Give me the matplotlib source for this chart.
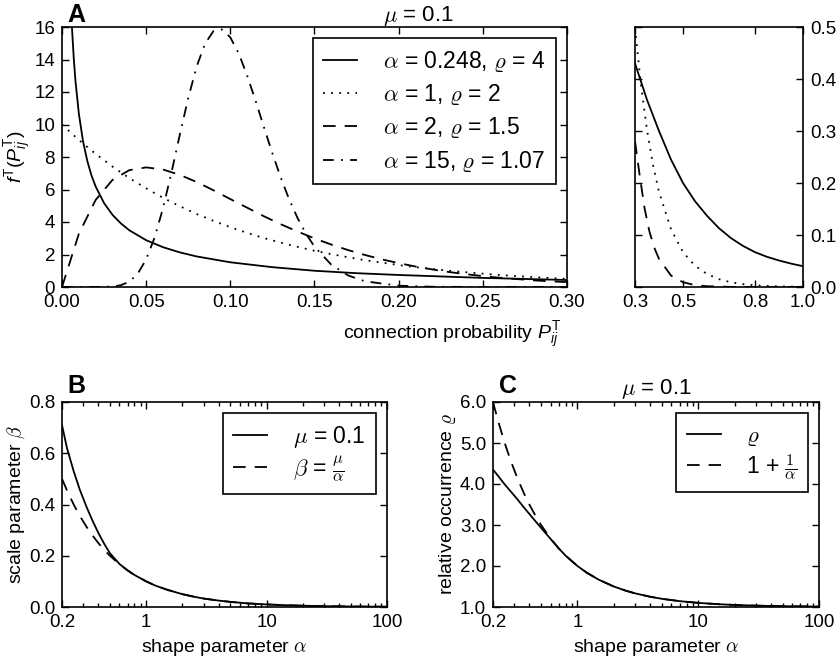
import matplotlib
matplotlib.use("Agg")
import matplotlib.pyplot as plt
from matplotlib.ticker import FixedLocator, FormatStrFormatter, LogLocator, NullFormatter

plt.rcParams['font.family'] = ['Liberation Sans', 'DejaVu Sans']
plt.rcParams['mathtext.fontset'] = 'cm'
plt.rcParams['mathtext.rm'] = 'Liberation Sans'
plt.rcParams['mathtext.it'] = 'Liberation Sans:italic'
plt.rcParams['xtick.direction'] = 'in'
plt.rcParams['ytick.direction'] = 'in'
plt.rcParams['xtick.top'] = True
plt.rcParams['ytick.right'] = True

# ---- panel A, main part (connection probability densities) ----
x_a1 = [0.005, 0.006, 0.007, 0.008, 0.01, 0.0125, 0.015, 0.0175, 0.02, 0.025,
        0.03, 0.035, 0.04, 0.05, 0.06, 0.07, 0.08, 0.10, 0.125, 0.15, 0.175,
        0.20, 0.25, 0.30]
f_a1 = [18.2, 15.8, 14.05, 12.68, 10.67, 8.96, 7.77, 6.87, 6.18, 5.16,
        4.44, 3.91, 3.49, 2.88, 2.45, 2.13, 1.88, 1.52, 1.22, 1.0, 0.85,
        0.74, 0.56, 0.43]

x_a2 = [0.00, 0.01, 0.02, 0.03, 0.04, 0.05, 0.06, 0.07, 0.08, 0.09, 0.10,
        0.11, 0.12, 0.13, 0.14, 0.15, 0.16, 0.17, 0.18, 0.19, 0.20, 0.21,
        0.22, 0.23, 0.24, 0.25, 0.26, 0.27, 0.28, 0.29, 0.30]
f_a2 = [10.0, 9.05, 8.19, 7.41, 6.70, 6.07, 5.49, 4.97, 4.49, 4.07, 3.68,
        3.33, 3.01, 2.73, 2.47, 2.23, 2.02, 1.83, 1.65, 1.50, 1.35, 1.22,
        1.11, 1.00, 0.91, 0.82, 0.74, 0.67, 0.61, 0.55, 0.50]

x_a3 = x_a2
f_a3 = [0.0, 3.27, 5.36, 6.59, 7.19, 7.36, 7.23, 6.90, 6.46, 5.95, 5.41,
        4.88, 4.35, 3.86, 3.41, 2.99, 2.61, 2.27, 1.97, 1.70, 1.47, 1.26,
        1.08, 0.92, 0.79, 0.67, 0.57, 0.49, 0.41, 0.35, 0.30]

x_a4 = [0.0, 0.02, 0.03, 0.035, 0.04, 0.045, 0.05, 0.055, 0.06, 0.065, 0.07,
        0.075, 0.08, 0.085, 0.09, 0.095, 0.10, 0.105, 0.11, 0.115, 0.12,
        0.125, 0.13, 0.135, 0.14, 0.145, 0.15, 0.16, 0.17, 0.18, 0.20,
        0.22, 0.25, 0.30]
f_a4 = [0.0, 0.001, 0.03, 0.11, 0.33, 0.82, 1.70, 3.04, 4.85, 7.03, 9.38,
        11.63, 13.57, 14.98, 15.75, 15.85, 15.36, 14.37, 13.01, 11.46, 9.82,
        8.22, 6.72, 5.38, 4.23, 3.27, 2.48, 1.37, 0.71, 0.35, 0.08,
        0.015, 0.001, 0.0]

labels_a = [r'$\alpha$ = 0.248, $\varrho$ = 4',
            r'$\alpha$ = 1, $\varrho$ = 2',
            r'$\alpha$ = 2, $\varrho$ = 1.5',
            r'$\alpha$ = 15, $\varrho$ = 1.07']

# ---- panel A, tail (0.3 .. 1.0) ----
xt1 = [0.3, 0.35, 0.4, 0.45, 0.5, 0.55, 0.6, 0.65, 0.7, 0.75, 0.8, 0.85,
       0.9, 0.95, 1.0]
ft1 = [0.43, 0.36, 0.30, 0.245, 0.20, 0.165, 0.137, 0.113, 0.094, 0.079,
       0.067, 0.058, 0.051, 0.045, 0.04]
xt2 = [0.3, 0.325, 0.35, 0.375, 0.4, 0.45, 0.5, 0.55, 0.6, 0.65, 0.7, 0.75,
       0.8, 0.85, 0.9, 0.95, 1.0]
ft2 = [0.498, 0.388, 0.302, 0.235, 0.183, 0.111, 0.067, 0.041, 0.025, 0.015,
       0.009, 0.0055, 0.0034, 0.002, 0.0012, 0.0007, 0.0005]
xt3 = [0.3, 0.32, 0.34, 0.36, 0.38, 0.4, 0.45, 0.5, 0.55, 0.6, 0.7, 0.8, 1.0]
ft3 = [0.28, 0.213, 0.151, 0.107, 0.076, 0.054, 0.022, 0.0091, 0.0037,
       0.0015, 0.0002, 0.0, 0.0]

# ---- panels B and C (vs shape parameter alpha) ----
alpha = [0.2, 0.22, 0.25, 0.28, 0.32, 0.36, 0.4, 0.45, 0.5, 0.6, 0.7, 0.8,
         1, 1.2, 1.5, 2, 2.5, 3, 4, 5, 7, 10, 15, 20, 30, 50, 100]
beta = [0.71, 0.62, 0.53, 0.46, 0.39, 0.335, 0.29, 0.245, 0.21, 0.168,
        0.143, 0.125, 0.1, 0.083, 0.067, 0.05, 0.04, 0.033, 0.025, 0.02,
        0.014, 0.01, 0.0067, 0.005, 0.0033, 0.002, 0.001]
beta_approx = [0.5, 0.455, 0.4, 0.357, 0.3125, 0.278, 0.25, 0.222, 0.2,
               0.167, 0.143, 0.125, 0.1, 0.083, 0.067, 0.05, 0.04, 0.033,
               0.025, 0.02, 0.014, 0.01, 0.0067, 0.005, 0.0033, 0.002, 0.001]
rho = [4.35, 4.2, 3.99, 3.82, 3.62, 3.43, 3.27, 3.09, 2.93, 2.66, 2.43,
       2.25, 2.0, 1.833, 1.667, 1.5, 1.4, 1.333, 1.25, 1.2, 1.143, 1.1,
       1.067, 1.05, 1.033, 1.02, 1.01]
rho_approx = [6.0, 5.545, 5.0, 4.571, 4.125, 3.778, 3.5, 3.222, 3.0, 2.667,
              2.429, 2.25, 2.0, 1.833, 1.667, 1.5, 1.4, 1.333, 1.25, 1.2,
              1.143, 1.1, 1.067, 1.05, 1.033, 1.02, 1.01]

W, H = 837, 660
fig = plt.figure(figsize=(W / 100, H / 100), dpi=100)


def box(l, t, r, b):
    return [l / W, 1 - b / H, (r - l) / W, (b - t) / H]


lw = 1.3
styles = ['-', (0, (1, 3.5)), (0, (7, 5)), (0, (6, 4, 1, 4))]
tick_fs = 13.5
lab_fs = 14
leg_fs = 16.5


def add_legend(a, handles=None, labels=None, spacing=0.45):
    if handles is None:
        handles, labels = a.get_legend_handles_labels()
    lg = a.legend(handles, labels, loc='upper right', fontsize=leg_fs,
                  handlelength=1.5, labelspacing=spacing, borderpad=0.45,
                  handletextpad=1.1, fancybox=False, edgecolor='k',
                  framealpha=1, borderaxespad=0.5)
    lg.get_frame().set_linewidth(1.2)
    return lg


# main panel A
ax = fig.add_axes(box(62, 27, 567, 287))
for xs, ys, ls, lab in zip([x_a1, x_a2, x_a3, x_a4], [f_a1, f_a2, f_a3, f_a4],
                           styles, labels_a):
    ax.plot(xs, ys, color='k', lw=lw, linestyle=ls, label=lab)
ax.set_xlim(0, 0.3)
ax.set_ylim(0, 16)
ax.set_xticks([0, 0.05, 0.10, 0.15, 0.20, 0.25, 0.30])
ax.xaxis.set_major_formatter(FormatStrFormatter('%.2f'))
ax.set_yticks(range(0, 17, 2))
ax.tick_params(labelsize=tick_fs, length=5, width=1, pad=5)
ax.set_ylabel(r'$f^{\mathrm{T}}(P_{ij}^{\mathrm{T}})$', fontsize=lab_fs,
              math_fontfamily='custom')
ax.yaxis.set_label_coords((33 - 62) / 505, 0.5)
add_legend(ax, spacing=0.36)

# tail panel A
ax2 = fig.add_axes(box(635, 27, 803, 287))
ax2.plot(xt1, ft1, color='k', lw=lw, linestyle=styles[0])
ax2.plot(xt2, ft2, color='k', lw=lw, linestyle=styles[1])
ax2.plot(xt3, ft3, color='k', lw=lw, linestyle=styles[2])
ax2.set_xlim(0.3, 1.0)
ax2.set_ylim(0, 0.5)
ax2.set_xticks([0.3, 0.5, 0.8, 1.0])
ax2.xaxis.set_major_formatter(FormatStrFormatter('%.1f'))
ax2.set_yticks([0, 0.1, 0.2, 0.3, 0.4, 0.5])
ax2.yaxis.set_major_formatter(FormatStrFormatter('%.1f'))
ax2.yaxis.tick_right()
ax2.yaxis.set_ticks_position('both')
ax2.tick_params(labelsize=tick_fs, length=5, width=1, pad=5,
                labelleft=False, labelright=True)

fig.text(418 / W, 1 - 21 / H, r'$\mu$ = 0.1', fontsize=16, ha='center',
         va='baseline')
fig.text(452 / W, 1 - 339 / H, r'connection probability $P_{ij}^{\mathrm{T}}$',
         fontsize=lab_fs, ha='center', va='baseline', math_fontfamily='custom')
fig.text(67 / W, 1 - 22 / H, 'A', fontsize=18, fontweight='bold',
         va='baseline')


def log_axis(a):
    a.set_xscale('log')
    a.set_xlim(0.2, 100)
    a.xaxis.set_major_locator(FixedLocator([0.2, 1, 10, 100]))
    a.xaxis.set_major_formatter(FormatStrFormatter('%g'))
    a.xaxis.set_minor_locator(LogLocator(base=10, subs=range(2, 10)))
    a.xaxis.set_minor_formatter(NullFormatter())
    a.tick_params(which='major', labelsize=tick_fs, length=5, width=1, pad=5)
    a.tick_params(which='minor', length=3, width=1)
    a.set_xlabel(r'shape parameter $\alpha$', fontsize=lab_fs, labelpad=4)


# panel B
axb = fig.add_axes(box(62, 402, 387, 607))
axb.plot(alpha, beta_approx, color='k', lw=lw, linestyle=styles[2],
         label=r'$\beta$ = $\frac{\mu}{\alpha}$')
axb.plot(alpha, beta, color='k', lw=lw, linestyle='-', label=r'$\mu$ = 0.1')
log_axis(axb)
axb.set_ylim(0, 0.8)
axb.set_yticks([0, 0.2, 0.4, 0.6, 0.8])
axb.yaxis.set_major_formatter(FormatStrFormatter('%.1f'))
axb.set_ylabel(r'scale parameter $\beta$', fontsize=lab_fs)
axb.yaxis.set_label_coords((27 - 62) / 325, 0.5)
h, l = axb.get_legend_handles_labels()
add_legend(axb, h[::-1], l[::-1], spacing=0.2)
fig.text(67 / W, 1 - 393 / H, 'B', fontsize=18, fontweight='bold',
         va='baseline')

# panel C
axc = fig.add_axes(box(493, 402, 819, 607))
axc.plot(alpha, rho_approx, color='k', lw=lw, linestyle=styles[2],
         label=r'1 + $\frac{1}{\alpha}$')
axc.plot(alpha, rho, color='k', lw=lw, linestyle='-', label=r'$\varrho$')
log_axis(axc)
axc.set_ylim(1, 6)
axc.set_yticks([1, 2, 3, 4, 5, 6])
axc.yaxis.set_major_formatter(FormatStrFormatter('%.1f'))
axc.set_ylabel(r'relative occurrence $\varrho$', fontsize=lab_fs)
axc.yaxis.set_label_coords((458 - 493) / 326, 0.5)
axc.set_title(r'$\mu$ = 0.1', fontsize=16, pad=6)
h, l = axc.get_legend_handles_labels()
add_legend(axc, h[::-1], l[::-1], spacing=0.2)
fig.text(499 / W, 1 - 393 / H, 'C', fontsize=18, fontweight='bold',
         va='baseline')

for a in [ax, ax2, axb, axc]:
    for s in a.spines.values():
        s.set_linewidth(1.2)

fig.savefig('out.png', dpi=100)
